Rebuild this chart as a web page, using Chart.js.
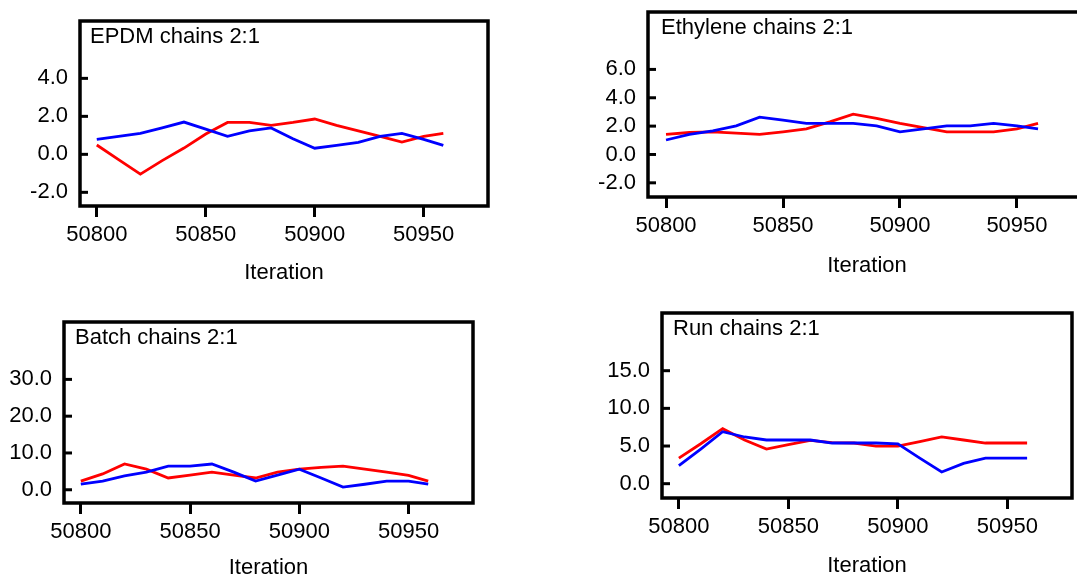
<!DOCTYPE html>
<html>
<head>
<meta charset="utf-8">
<script src="https://cdn.jsdelivr.net/npm/chart.js@4.4.1/dist/chart.umd.min.js"></script>
<style>
  html, body { margin: 0; padding: 0; background: #fff; width: 1077px; height: 580px; overflow: hidden; position: relative; }
  canvas { position: absolute; }
</style>
</head>
<body>
<canvas id="epdm"></canvas>
<canvas id="ethylene"></canvas>
<canvas id="batch"></canvas>
<canvas id="run"></canvas>
<script>
// Sampled iterations (every 10th, plus the last one)
const iterations = [50800, 50810, 50820, 50830, 50840, 50850, 50860, 50870, 50880,
                    50890, 50900, 50910, 50920, 50930, 50940, 50950, 50959];
const xTickValues = [50800, 50850, 50900, 50950];

// Trace values for the two chains of each parameter
const epdmChain1 = [0.49, -0.28, -1.04, -0.33, 0.33, 1.07, 1.68, 1.68, 1.53, 1.68, 1.86, 1.53, 1.23, 0.95, 0.65, 0.95, 1.1];
const epdmChain2 = [0.79, 0.95, 1.1, 1.39, 1.7, 1.33, 0.95, 1.23, 1.39, 0.82, 0.32, 0.47, 0.63, 0.95, 1.1, 0.79, 0.47];

const ethyleneChain1 = [1.42, 1.55, 1.6, 1.5, 1.42, 1.6, 1.81, 2.3, 2.84, 2.55, 2.2, 1.9, 1.6, 1.6, 1.6, 1.81, 2.2];
const ethyleneChain2 = [1.02, 1.42, 1.67, 2.02, 2.63, 2.42, 2.2, 2.2, 2.2, 2.02, 1.6, 1.81, 2.02, 2.02, 2.2, 2.02, 1.81];

const batchChain1 = [2.35, 4.3, 7.0, 5.6, 3.2, 4.0, 4.8, 4.0, 3.2, 4.8, 5.6, 6.1, 6.4, 5.6, 4.8, 3.9, 2.35];
const batchChain2 = [1.5, 2.35, 3.8, 4.8, 6.4, 6.4, 7.0, 4.8, 2.35, 4.0, 5.6, 3.2, 0.72, 1.5, 2.35, 2.35, 1.5];

const runChain1 = [3.4, 5.3, 7.3, 5.8, 4.6, 5.2, 5.75, 5.45, 5.4, 5.0, 5.0, 5.6, 6.2, 5.8, 5.4, 5.4, 5.4];
const runChain2 = [2.4, 4.6, 6.9, 6.2, 5.8, 5.8, 5.8, 5.4, 5.4, 5.4, 5.3, 3.4, 1.55, 2.7, 3.4, 3.4, 3.4];

// Y tick labels per panel
const epdmTicks = [-2, 0, 2, 4];
const ethyleneTicks = [-2, 0, 2, 4, 6];
const batchTicks = [0, 10, 20, 30];
const runTicks = [0, 5, 10, 15];

const FONT = { family: "'Liberation Sans', Arial, sans-serif", size: 22 };
const AXIS_W = 80, PAD = 10;

// Frame outline, inward y tick marks and the in-plot heading
const framePlugin = {
  id: 'frame',
  afterDraw(chart, args, opts) {
    const { ctx, chartArea: a, scales: { y } } = chart;
    ctx.save();
    ctx.strokeStyle = '#000';
    ctx.lineWidth = 3.5;
    ctx.strokeRect(a.left, a.top, a.right - a.left, a.bottom - a.top);
    ctx.lineWidth = 3;
    y.ticks.forEach(t => {
      const py = y.getPixelForValue(t.value);
      ctx.beginPath();
      ctx.moveTo(a.left, py);
      ctx.lineTo(a.left + 8, py);
      ctx.stroke();
    });
    ctx.fillStyle = '#000';
    ctx.font = `${FONT.size}px ${FONT.family}`;
    ctx.textBaseline = 'middle';
    ctx.textAlign = 'left';
    ctx.fillText(opts.heading, a.left + opts.dx, a.top + opts.dy);
    ctx.restore();
  }
};

function tracePanel(id, box, heading, chain1, chain2, yMin, yMax, yTicks) {
  const canvas = document.getElementById(id);
  const w = (box.R - box.L) + AXIS_W + PAD;
  const h = PAD + (box.B - box.T) + box.axisH;
  canvas.width = w; canvas.height = h;
  canvas.style.width = w + 'px'; canvas.style.height = h + 'px';
  canvas.style.left = (box.L - AXIS_W) + 'px';
  canvas.style.top = (box.T - PAD) + 'px';

  const toPoints = vals => vals.map((v, i) => ({ x: iterations[i], y: v }));

  new Chart(canvas, {
    type: 'line',
    data: {
      datasets: [
        { label: 'chain 2', data: toPoints(chain2), borderColor: '#0000ff', borderWidth: 2.8,
          pointRadius: 0, tension: 0, fill: false, order: 0 },
        { label: 'chain 1', data: toPoints(chain1), borderColor: '#ff0000', borderWidth: 2.8,
          pointRadius: 0, tension: 0, fill: false, order: 1 }
      ]
    },
    options: {
      responsive: false,
      animation: false,
      devicePixelRatio: 1,
      layout: { padding: { top: PAD, right: PAD, left: 0, bottom: 0 } },
      plugins: {
        legend: { display: false },
        tooltip: { enabled: false },
        frame: { heading, dx: box.hx, dy: box.hy }
      },
      scales: {
        x: {
          type: 'linear', min: 50792.3, max: 50979.5,
          afterBuildTicks: s => { s.ticks = xTickValues.map(v => ({ value: v })); },
          afterFit: s => { s.height = box.axisH; s.paddingLeft = 0; s.paddingRight = 0; },
          grid: { display: true, drawOnChartArea: false, drawTicks: true, tickLength: 11, tickWidth: 3, tickColor: '#000' },
          border: { display: false },
          ticks: { color: '#000', font: FONT, padding: 5, maxRotation: 0, autoSkip: false,
                   callback: v => String(v) },
          title: { display: true, text: 'Iteration', color: '#000', font: FONT, padding: 0 }
        },
        y: {
          type: 'linear', min: yMin, max: yMax,
          afterBuildTicks: s => { s.ticks = yTicks.map(v => ({ value: v })); },
          afterFit: s => { s.width = AXIS_W; s.paddingTop = 0; s.paddingBottom = 0; },
          grid: { display: false, drawTicks: false },
          border: { display: false },
          ticks: { color: '#000', font: FONT, padding: 12, callback: v => v.toFixed(1) }
        }
      }
    },
    plugins: [framePlugin]
  });
}

tracePanel('epdm',     { L: 80,  T: 21,  R: 488,  B: 206, axisH: 80, hx: 10, hy: 16 },
           'EPDM chains 2:1', epdmChain1, epdmChain2, -2.72, 7.02, epdmTicks);
tracePanel('ethylene', { L: 648, T: 12,  R: 1086, B: 197, axisH: 82, hx: 13, hy: 16 },
           'Ethylene chains 2:1', ethyleneChain1, ethyleneChain2, -3.0, 10.05, ethyleneTicks);
tracePanel('batch',    { L: 64,  T: 322, R: 473,  B: 503, axisH: 78, hx: 11, hy: 16 },
           'Batch chains 2:1', batchChain1, batchChain2, -3.6, 45.6, batchTicks);
tracePanel('run',      { L: 662, T: 313, R: 1072, B: 498, axisH: 81, hx: 11, hy: 16 },
           'Run chains 2:1', runChain1, runChain2, -1.9, 22.66, runTicks);
</script>
</body>
</html>
